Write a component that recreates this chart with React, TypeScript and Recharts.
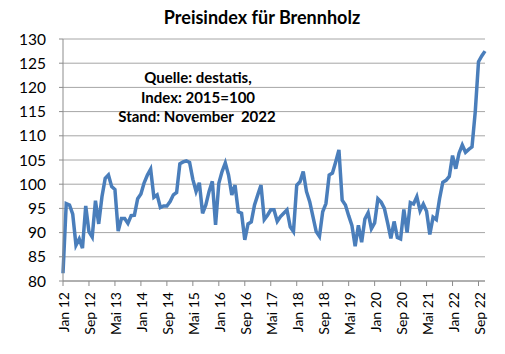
import React from 'react';
import { LineChart, Line, XAxis, YAxis, CartesianGrid } from 'recharts';

const monthNames = ['Jan', 'Feb', 'Mrz', 'Apr', 'Mai', 'Jun', 'Jul', 'Aug', 'Sep', 'Okt', 'Nov', 'Dez'];
const years = ['12', '13', '14', '15', '16', '17', '18', '19', '20', '21', '22'];

const v2012 = [81.6, 96.0, 95.7, 93.8, 87.4, 88.7, 86.8, 95.5, 90.2, 89.1, 96.6, 91.8];
const v2013 = [97.4, 101.2, 101.9, 99.5, 98.9, 90.3, 92.9, 92.9, 91.9, 93.5, 93.6, 97.0];
const v2014 = [98.0, 100.3, 101.9, 103.1, 97.3, 97.8, 95.2, 95.5, 95.5, 96.4, 97.8, 98.3];
const v2015 = [104.2, 104.6, 104.8, 104.5, 101.0, 98.5, 100.3, 94.0, 95.7, 98.5, 100.6, 91.6];
const v2016 = [100.2, 102.6, 104.4, 101.9, 97.8, 99.8, 94.3, 94.0, 88.5, 91.8, 92.2, 95.7];
const v2017 = [97.8, 99.8, 92.7, 93.6, 94.7, 94.7, 92.3, 93.3, 94.0, 94.7, 91.2, 90.2];
const v2018 = [99.8, 100.5, 102.6, 98.5, 96.4, 93.3, 90.2, 89.2, 94.3, 96.0, 101.9, 102.3];
const v2019 = [104.6, 107.1, 96.7, 95.7, 93.5, 91.5, 87.2, 91.5, 88.0, 92.8, 94.1, 90.8];
const v2020 = [92.0, 97.0, 96.3, 95.0, 92.0, 88.8, 92.3, 89.0, 88.7, 94.8, 90.0, 96.2];
const v2021 = [95.9, 97.4, 94.5, 95.9, 94.4, 89.6, 93.2, 92.7, 97.0, 100.4, 100.8, 101.6];
const v2022 = [105.9, 103.2, 106.4, 108.1, 106.6, 107.2, 107.7, 115.0, 125.3, 126.5, 127.5];

const seriesByYear = [v2012, v2013, v2014, v2015, v2016, v2017, v2018, v2019, v2020, v2021, v2022];
const yTicks = [80, 85, 90, 95, 100, 105, 110, 115, 120, 125, 130];

const data: { label: string; value: number }[] = [];
seriesByYear.forEach((arr, yi) => {
  arr.forEach((v, mi) => {
    data.push({ label: `${monthNames[mi]} ${years[yi]}`, value: v });
  });
});

const FONT = 'Lato, "Open Sans", "Liberation Sans", sans-serif';

const XTick = (props: any) => {
  const { x, y, payload } = props;
  return (
    <text
      x={0}
      y={0}
      dy="0.36em"
      transform={`translate(${x + 1},${y + 4}) rotate(-90)`}
      textAnchor="end"
      fontSize={14}
      fontFamily={FONT}
      fill="#000"
    >
      {payload.value}
    </text>
  );
};

export default function App() {
  return (
    <div style={{ position: 'absolute', left: 0, top: 0, width: 505, height: 354, background: '#fff' }}>
      <LineChart
        width={505}
        height={354}
        data={data}
        margin={{ top: 39, right: 20, left: 8, bottom: 13 }}
      >
        <CartesianGrid horizontal vertical={false} stroke="#a6a6a6" strokeWidth={1} />
        <XAxis
          dataKey="label"
          interval={7}
          height={60}
          tickSize={5}
          tickLine={{ stroke: '#8c8c8c' }}
          axisLine={{ stroke: '#8c8c8c' }}
          tick={<XTick />}
        />
        <YAxis
          domain={[80, 130]}
          ticks={yTicks}
          width={55}
          tickSize={4}
          tickMargin={13}
          tickLine={{ stroke: '#8c8c8c' }}
          axisLine={{ stroke: '#8c8c8c' }}
          tick={{ fontSize: 15.5, fontFamily: FONT, fill: '#000' }}
          interval={0}
        />
        <Line
          type="linear"
          dataKey="value"
          stroke="#4a7ebb"
          strokeWidth={3.5}
          dot={false}
          isAnimationActive={false}
        />
      </LineChart>
      <svg
        width={505}
        height={354}
        style={{ position: 'absolute', left: 0, top: 0, pointerEvents: 'none' }}
      >
        <text x={262} y={24} textAnchor="middle" fontSize={18} fontWeight="bold" fontFamily={FONT} fill="#000">
          Preisindex für Brennholz
        </text>
        <text x={198} y={83} textAnchor="middle" fontSize={15} fontWeight="bold" fontFamily={FONT} fill="#000">
          Quelle: destatis,
        </text>
        <text x={198} y={102.5} textAnchor="middle" fontSize={15} fontWeight="bold" fontFamily={FONT} fill="#000">
          Index: 2015=100
        </text>
        <text x={197} y={122} textAnchor="middle" fontSize={15} fontWeight="bold" fontFamily={FONT} fill="#000" style={{ whiteSpace: 'pre' }}>
          {'Stand: November  2022'}
        </text>
      </svg>
    </div>
  );
}
